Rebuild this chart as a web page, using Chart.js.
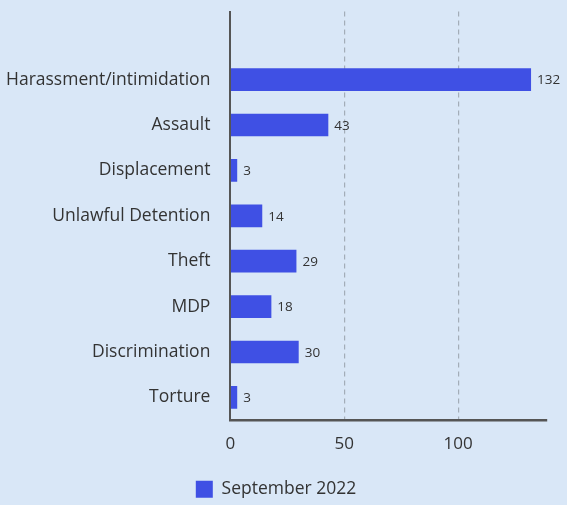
<!DOCTYPE html>
<html>
<head>
<meta charset="utf-8">
<script src="https://cdn.jsdelivr.net/npm/chart.js@4"></script>
<style>
  body { margin: 0; background: #d9e7f7; }
  canvas { display: block; }
</style>
</head>
<body>
<canvas id="chart" width="567" height="505"></canvas>
<script>
const categories = ['Harassment/intimidation', 'Assault', 'Displacement', 'Unlawful Detention', 'Theft', 'MDP', 'Discrimination', 'Torture'];
const seriesName = 'September 2022';
const values = [132, 43, 3, 14, 29, 18, 30, 3];
const xTicks = [0, 50, 100];

const barColor = '#3f50e4';
const axisColor = '#555555';
const textColor = '#333333';
const fontName = 'Open Sans';

// data labels next to each bar
const valueLabels = {
    id: 'valueLabels',
    afterDatasetsDraw(chart) {
        const ctx = chart.ctx;
        ctx.save();
        ctx.font = '13.5px "' + fontName + '"';
        ctx.fillStyle = textColor;
        ctx.textBaseline = 'middle';
        chart.getDatasetMeta(0).data.forEach((bar, i) => {
            const v = chart.data.datasets[0].data[i];
            if (v == null) return;
            ctx.fillText(v, bar.x + 6, bar.y + 1);
        });
        ctx.restore();
    }
};

// an empty slot at the top leaves the space above the first bar
const labels = [''].concat(categories);
const data = [null].concat(values);

new Chart(document.getElementById('chart'), {
    type: 'bar',
    data: {
        labels: labels,
        datasets: [{
            label: seriesName,
            data: data,
            backgroundColor: barColor,
            borderColor: barColor,
            borderWidth: 0,
            barPercentage: 0.5,
            categoryPercentage: 1
        }]
    },
    options: {
        indexAxis: 'y',
        responsive: false,
        animation: false,
        layout: { padding: { top: 0, right: 20, left: 5, bottom: -3 } },
        scales: {
            x: {
                min: 0,
                max: 139,
                afterBuildTicks: (scale) => { scale.ticks = xTicks.map(v => ({ value: v })); },
                afterFit: (scale) => { scale.height += 10; },
                grid: {
                    drawTicks: false,
                    color: (c) => c.tick && c.tick.value === 0 ? 'rgba(0,0,0,0)' : '#a3adb8',
                    lineWidth: 1.2
                },
                border: { display: true, color: axisColor, width: 2.5, dash: [5, 4] },
                ticks: { color: textColor, font: { family: fontName, size: 17 }, padding: 14 }
            },
            y: {
                border: { display: true, color: axisColor, width: 2 },
                // invisible tick marks keep the gap between labels and axis
                grid: { display: true, drawOnChartArea: false, drawTicks: true, tickLength: 19, tickColor: 'rgba(0,0,0,0)' },
                ticks: { color: textColor, font: { family: fontName, size: 17.5 }, padding: 1 }
            }
        },
        plugins: {
            legend: {
                position: 'bottom',
                labels: {
                    color: textColor,
                    font: { family: fontName, size: 17.5 },
                    boxWidth: 17,
                    boxHeight: 17,
                    padding: 2
                }
            },
            tooltip: { enabled: false }
        }
    },
    plugins: [valueLabels]
});
</script>
</body>
</html>
